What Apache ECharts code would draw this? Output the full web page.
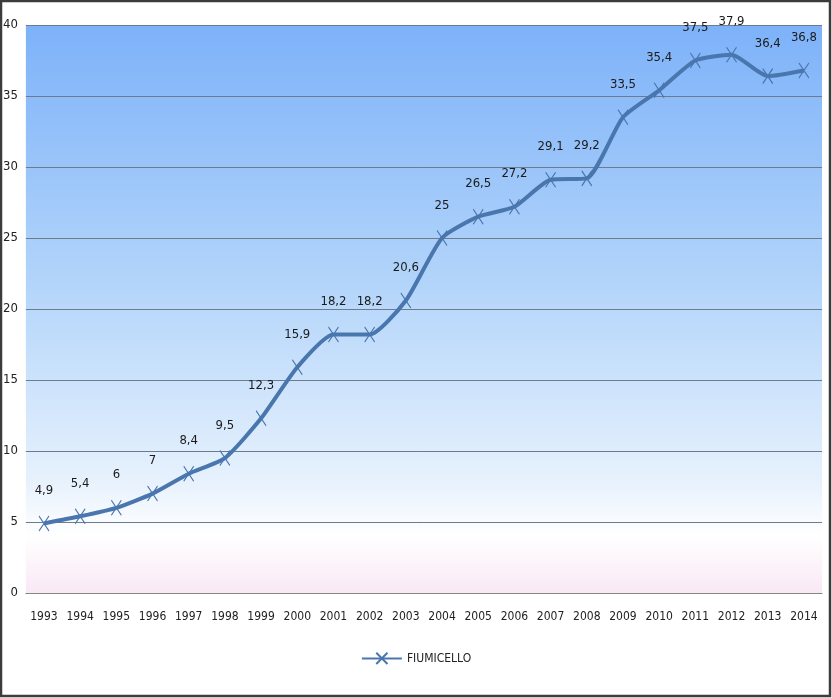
<!DOCTYPE html>
<html>
<head>
<meta charset="utf-8">
<script src="https://cdn.jsdelivr.net/npm/echarts@6/dist/echarts.min.js"></script>
<style>
html,body{margin:0;padding:0;background:#fff;}
#chart{width:832px;height:698px;}
</style>
</head>
<body>
<div id="chart"></div>
<script>
const years = ['1993','1994','1995','1996','1997','1998','1999','2000','2001','2002','2003','2004','2005','2006','2007','2008','2009','2010','2011','2012','2013','2014'];
const fiumicello = [4.9,5.4,6,7,8.4,9.5,12.3,15.9,18.2,18.2,20.6,25,26.5,27.2,29.1,29.2,33.5,35.4,37.5,37.9,36.4,36.8];
const seriesName = 'FIUMICELLO';
const yTicks = {min:0, max:40, interval:5};

const FONT = '"DejaVu Sans Condensed","Liberation Sans Narrow","Liberation Sans",sans-serif';
const chart = echarts.init(document.getElementById('chart'));
chart.setOption({
  animation:false,
  backgroundColor:'#ffffff',
  textStyle:{fontFamily:FONT},
  graphic:[{
    type:'rect', silent:true, z:100,
    shape:{x:1,y:1,width:829,height:695},
    style:{fill:'none',stroke:'#3c3c3c',lineWidth:2.5}
  }],
  grid:{left:25,right:10,top:25,bottom:105,show:true,borderWidth:0,
    backgroundColor:new echarts.graphic.LinearGradient(0,0,0,1,[
      {offset:0,color:'#7db2f9'},
      {offset:0.45,color:'#b2d4fa'},
      {offset:0.8,color:'#e6f1fd'},
      {offset:0.9,color:'#ffffff'},
      {offset:1,color:'#f9e8f5'}
    ])},
  legend:{bottom:28,left:'center',itemWidth:40,itemHeight:14,itemGap:4,
    textStyle:{fontFamily:FONT,fontSize:12,color:'#222'},
    data:[seriesName]},
  xAxis:{type:'category',data:years,boundaryGap:true,
    axisLine:{lineStyle:{color:'#868686',width:1}},
    axisTick:{show:false},
    axisLabel:{fontFamily:FONT,fontSize:12,color:'#222',margin:18,interval:0}},
  yAxis:{type:'value',min:yTicks.min,max:yTicks.max,interval:yTicks.interval,
    axisLine:{show:false},axisTick:{show:false},
    splitLine:{lineStyle:{color:'#6d7c8c',width:1}},
    axisLabel:{fontFamily:FONT,fontSize:13,color:'#222',margin:8}},
  series:[{
    name:seriesName,type:'line',data:fiumicello,smooth:0.2,
    symbol:'path://M0,0L10,14M10,0L0,14',symbolSize:[10,15],
    itemStyle:{color:'#4a76ae',borderColor:'#4a76ae',borderWidth:1.2},
    lineStyle:{color:'#4a76ae',width:4},
    label:{show:true,position:'top',distance:18,fontFamily:FONT,fontSize:13,color:'#1a1a1a',
      formatter:p=>String(p.value).replace('.',',')}
  }]
});
</script>
</body>
</html>
